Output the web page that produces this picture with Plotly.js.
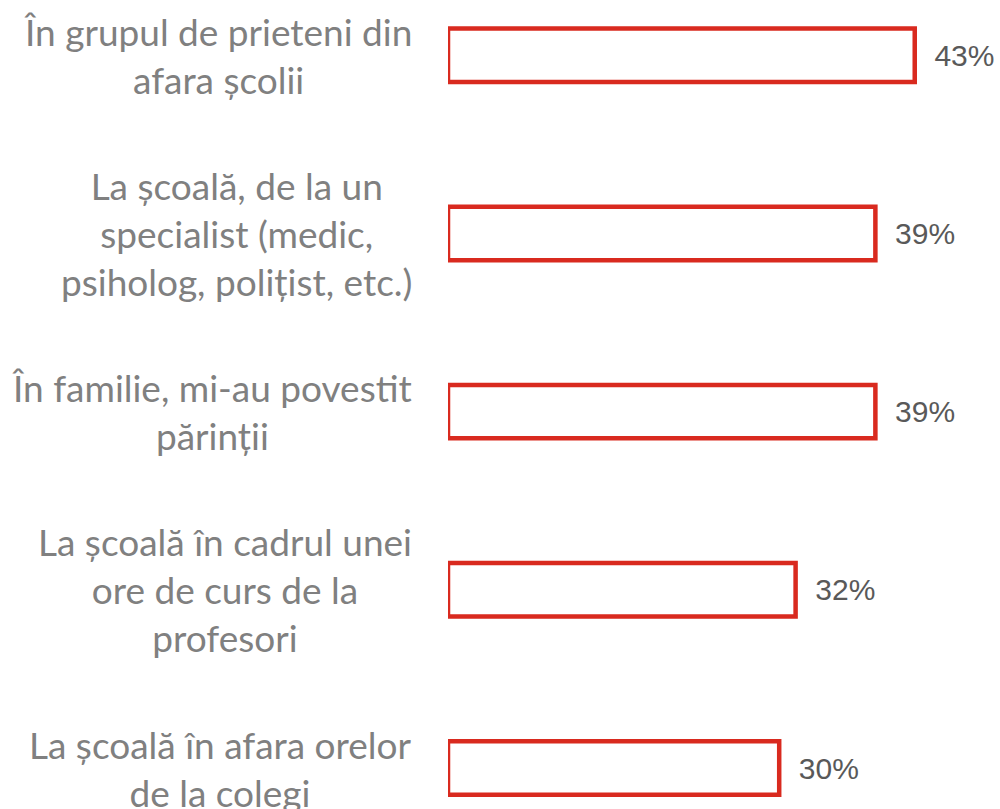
<!DOCTYPE html>
<html>
<head>
<meta charset="utf-8">
<script src="https://cdn.plot.ly/plotly-3.0.1.min.js"></script>
<style>
  html, body { margin: 0; padding: 0; background: #fff; }
  #graph { width: 1000px; height: 809px; }
</style>
</head>
<body>
<div id="graph"></div>
<script>
// categorii, de sus in jos
const categorii = [
  'În grupul de prieteni din<br>afara școlii',
  'La școală, de la un<br>specialist (medic,<br>psiholog, polițist, etc.)',
  'În familie, mi-au povestit<br>părinții',
  'La școală în cadrul unei<br>ore de curs de la<br>profesori',
  'La școală în afara orelor<br>de la colegi'
];
const procente = [42.7, 39.1, 39.1, 31.8, 30.3];

const rosu = '#d92a1f';

let bare = {
  type: 'bar',
  orientation: 'h',
  x: procente,
  y: categorii.map((c, i) => i),
  width: 0.3,
  marker: { color: '#ffffff', line: { color: rosu, width: 4.5 } },
  texttemplate: '\u00a0\u00a0%{x:.0f}%',
  textposition: 'outside',
  textfont: { family: 'Liberation Sans, Arial, sans-serif', size: 30, color: '#595959' },
  cliponaxis: false,
  hoverinfo: 'none'
};

// etichetele din stanga, centrate pe mai multe randuri
let etichete = categorii.map((c, i) => ({
  xref: 'paper', yref: 'y',
  x: 0, y: i,
  xanchor: 'right', yanchor: 'middle',
  xshift: -34,
  align: 'center',
  showarrow: false,
  text: c,
  font: { family: 'Lato, sans-serif', size: 37, color: '#808080' }
}));

let layout = {
  width: 1000,
  height: 809,
  margin: { l: 448, r: 0, t: 0, b: 0 },
  paper_bgcolor: '#ffffff',
  plot_bgcolor: '#ffffff',
  showlegend: false,
  xaxis: { range: [0, 50.5], visible: false, fixedrange: true },
  yaxis: { range: [4.23, -0.31], visible: false, fixedrange: true },
  annotations: etichete
};

Plotly.newPlot('graph', [bare], layout, { displayModeBar: false, staticPlot: true });
</script>
</body>
</html>
